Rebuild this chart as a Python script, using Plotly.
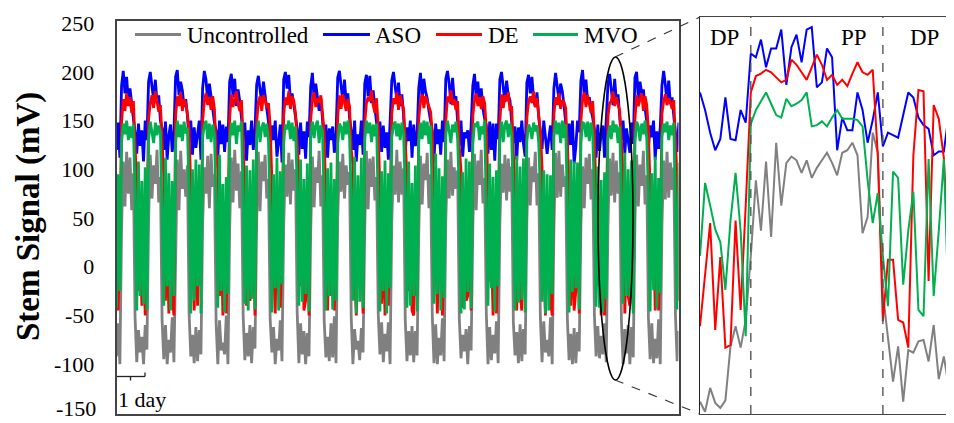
import numpy as np
import plotly.graph_objects as go

# page body has an 8 px default margin: the figure is laid out in screen pixels
OFF = 8
W, H = 954 - OFF, 423 - OFF

# ---------------- main chart data: 21 days, 16 samples per day (1.5 h) ----------------
samples_per_day = 16
uncontrolled_days = [
    [-92, -58, -100, 40, 108, 62, 118, 75, 112, 58, 96, -52, -98, -65, -88, -72],
    [-100, -60, -85, 48, 115, 70, 104, 85, 120, 66, 92, -55, -95, -60, -100, -75],
    [-88, -52, -98, 35, 110, 58, 119, 80, 100, 72, 104, -48, -92, -70, -99, -62],
    [-97, -65, -90, 44, 102, 75, 114, 60, 116, 82, 95, -58, -100, -55, -86, -78],
    [-90, -50, -100, 38, 112, 66, 120, 78, 106, 60, 98, -50, -96, -68, -92, -60],
    [-99, -62, -84, 46, 118, 57, 108, 88, 115, 70, 90, -54, -88, -62, -100, -74],
    [-86, -55, -97, 42, 105, 72, 117, 64, 110, 78, 100, -47, -99, -58, -90, -66],
    [-100, -68, -92, 36, 113, 61, 102, 86, 119, 62, 94, -56, -93, -72, -97, -58],
    [-93, -51, -99, 50, 108, 77, 116, 70, 104, 84, 97, -52, -100, -64, -85, -76],
    [-96, -63, -88, 39, 119, 59, 111, 82, 113, 68, 92, -49, -90, -57, -98, -69],
    [-87, -57, -100, 45, 104, 74, 120, 66, 108, 74, 101, -55, -97, -66, -91, -61],
    [-98, -66, -91, 37, 114, 64, 106, 89, 117, 60, 95, -50, -99, -59, -100, -73],
    [-91, -53, -97, 48, 110, 70, 118, 73, 102, 80, 99, -53, -94, -70, -87, -64],
    [-100, -61, -86, 41, 116, 58, 109, 84, 120, 65, 91, -48, -100, -62, -96, -70],
    [-89, -56, -99, 43, 106, 76, 115, 68, 111, 77, 103, -57, -91, -67, -99, -59],
    [-97, -64, -90, 47, 112, 63, 103, 87, 118, 63, 96, -51, -98, -56, -88, -75],
    [-92, -52, -100, 38, 117, 71, 119, 72, 105, 82, 93, -54, -96, -69, -100, -63],
    [-99, -67, -87, 44, 103, 60, 112, 85, 116, 69, 100, -49, -92, -61, -94, -71],
    [-90, -58, -98, 40, 111, 73, 117, 66, 109, 75, 97, -56, -100, -64, -89, -60],
    [-100, -62, -93, 46, 115, 62, 105, 83, 119, 64, 94, -52, -95, -58, -99, -74],
    [-94, -54, -100, 42, 109, 69, 118, 71, 107, 79, 102, -50, -97, -66, -91, -65],
]
aso_days = [
    [120, 148, 112, 186, 201, 178, 195, 170, 183, 165, 152, 138, 116, 147, 124, 140],
    [108, 150, 130, 190, 200, 185, 172, 192, 168, 176, 150, 142, 120, 149, 110, 135],
    [146, 118, 138, 195, 202, 176, 190, 181, 164, 172, 155, 128, 150, 115, 143, 122],
    [135, 150, 110, 183, 201, 192, 170, 188, 175, 160, 148, 140, 112, 150, 126, 146],
    [118, 144, 128, 190, 198, 174, 193, 165, 182, 170, 151, 136, 148, 109, 140, 125],
    [150, 120, 140, 187, 196, 180, 168, 190, 172, 162, 149, 119, 145, 130, 150, 113],
    [128, 146, 107, 192, 200, 183, 197, 170, 178, 166, 152, 142, 115, 148, 121, 139],
    [111, 149, 133, 185, 199, 172, 188, 176, 160, 174, 150, 128, 146, 112, 142, 130],
    [144, 117, 137, 194, 201, 186, 170, 192, 169, 178, 153, 140, 120, 150, 108, 136],
    [125, 150, 115, 188, 197, 175, 196, 168, 181, 163, 148, 133, 149, 118, 145, 122],
    [138, 110, 148, 191, 200, 182, 171, 189, 165, 177, 155, 117, 143, 129, 150, 112],
    [146, 124, 135, 184, 199, 170, 193, 180, 173, 160, 151, 139, 108, 147, 126, 141],
    [115, 150, 128, 193, 201, 188, 167, 194, 171, 175, 149, 124, 150, 113, 138, 132],
    [140, 118, 145, 186, 198, 173, 190, 166, 183, 162, 152, 145, 116, 149, 120, 147],
    [109, 147, 131, 192, 200, 181, 169, 191, 176, 171, 150, 127, 144, 110, 143, 128],
    [150, 126, 113, 189, 197, 178, 195, 172, 164, 179, 154, 138, 121, 150, 131, 116],
    [132, 145, 120, 183, 199, 186, 171, 188, 180, 166, 148, 118, 147, 125, 150, 106],
    [123, 150, 138, 191, 202, 175, 192, 169, 174, 161, 153, 141, 112, 146, 119, 137],
    [145, 112, 149, 187, 198, 183, 166, 193, 170, 177, 151, 130, 150, 116, 142, 127],
    [117, 148, 126, 194, 200, 172, 190, 178, 182, 163, 149, 122, 145, 133, 150, 110],
    [139, 121, 143, 186, 201, 187, 169, 191, 167, 174, 152, 136, 118, 148, 124, 145],
]
de_days = [
    [60, -45, 30, 148, 172, 160, 178, 165, 174, 158, 170, 128, 80, -25, 55, -40],
    [15, -50, 40, 152, 168, 176, 163, 180, 170, 159, 166, 135, 92, -35, 20, -48],
    [45, -30, -50, 155, 175, 165, 179, 160, 172, 168, 157, 140, 70, 10, -45, 35],
    [-40, 50, -20, 150, 170, 178, 166, 174, 161, 175, 162, 118, 100, -30, 40, -50],
    [25, -48, 60, 153, 177, 164, 172, 180, 167, 160, 171, 132, 65, -40, 15, -35],
    [-25, 35, -50, 149, 169, 175, 160, 176, 171, 163, 168, 145, 88, 0, -48, 50],
    [55, -42, 20, 156, 174, 166, 180, 162, 175, 170, 158, 125, 95, -20, 45, -45],
    [-35, 30, -50, 151, 171, 179, 164, 173, 168, 176, 160, 138, 60, -45, 25, -30],
    [40, -45, 10, 154, 176, 162, 177, 169, 160, 172, 165, 120, 105, -10, -50, 45],
    [-20, 55, -48, 148, 168, 174, 170, 181, 166, 158, 173, 142, 75, -38, 30, -50],
    [35, -40, 50, 157, 173, 167, 179, 161, 176, 169, 162, 130, 90, -25, 40, -45],
    [-50, 20, -30, 152, 170, 177, 163, 175, 170, 166, 159, 137, 68, 5, -48, 30],
    [45, -50, 15, 150, 175, 169, 181, 166, 172, 161, 170, 124, 98, -42, 50, -35],
    [-30, 40, -45, 155, 171, 178, 165, 174, 162, 175, 168, 141, 80, -15, 20, -50],
    [30, -48, 55, 149, 177, 163, 176, 170, 179, 160, 165, 127, 72, -45, 35, -28],
    [-45, 25, -20, 153, 169, 175, 168, 180, 164, 173, 158, 139, 102, 0, -50, 40],
    [50, -35, -50, 156, 174, 166, 178, 162, 171, 169, 163, 122, 85, -40, 25, -45],
    [-25, 45, -48, 150, 172, 179, 164, 176, 168, 158, 170, 136, 66, -20, 45, -50],
    [20, -50, 35, 154, 168, 170, 180, 165, 174, 167, 160, 129, 94, -48, 10, -30],
    [-40, 30, -45, 151, 176, 165, 171, 178, 160, 175, 166, 140, 78, -5, 50, -45],
    [40, -45, 20, 157, 170, 177, 166, 173, 169, 162, 171, 133, 88, -35, 30, -50],
]
mvo_days = [
    [-42, 95, -25, 128, 147, 136, 150, 130, 144, 132, 146, 70, -45, 108, -30, 88],
    [-38, 102, -45, 131, 149, 140, 127, 148, 135, 145, 138, 55, -40, 112, -20, 96],
    [-45, 88, -30, 126, 150, 133, 146, 129, 149, 137, 143, 75, -48, 100, -35, 110],
    [-20, 105, -48, 133, 145, 150, 131, 147, 128, 146, 136, 62, -42, 115, -25, 85],
    [-47, 92, -28, 129, 148, 135, 150, 126, 145, 139, 149, 68, -38, 104, -45, 99],
    [-33, 110, -44, 132, 150, 128, 143, 148, 133, 147, 130, 58, -47, 95, -22, 112],
    [-45, 98, -18, 127, 146, 141, 150, 131, 148, 129, 144, 80, -40, 110, -36, 90],
    [-28, 106, -46, 134, 149, 132, 145, 150, 127, 145, 139, 64, -45, 101, -30, 107],
    [-44, 90, -35, 125, 147, 143, 130, 149, 136, 150, 133, 72, -35, 113, -48, 94],
    [-36, 112, -42, 130, 150, 137, 148, 128, 146, 134, 147, 60, -46, 98, -25, 109],
    [-48, 96, -22, 133, 145, 149, 134, 147, 130, 148, 137, 77, -42, 108, -40, 86],
    [-30, 104, -46, 128, 148, 131, 150, 135, 149, 126, 145, 66, -38, 116, -28, 101],
    [-45, 93, -32, 135, 150, 140, 127, 146, 138, 149, 131, 74, -48, 97, -44, 111],
    [-26, 108, -43, 126, 147, 145, 149, 130, 144, 136, 150, 57, -40, 106, -22, 92],
    [-46, 99, -20, 131, 149, 128, 146, 150, 133, 147, 135, 69, -45, 114, -37, 103],
    [-34, 111, -47, 129, 146, 142, 131, 148, 139, 145, 128, 78, -36, 99, -48, 95],
    [-45, 94, -28, 134, 150, 136, 148, 127, 150, 132, 146, 61, -47, 110, -26, 108],
    [-22, 107, -44, 127, 148, 147, 133, 149, 129, 148, 137, 73, -41, 103, -42, 89],
    [-47, 97, -33, 132, 145, 131, 150, 138, 146, 127, 144, 65, -38, 117, -30, 100],
    [-31, 109, -48, 128, 149, 144, 129, 147, 136, 150, 132, 76, -46, 96, -24, 113],
    [-43, 91, -27, 133, 147, 138, 149, 130, 145, 135, 148, 59, -44, 107, -39, 97],
]

# ---------------- zoomed inset data (one DP / PP / DP cycle, 0.5 h samples) ----------------
inset_step_h = 0.5
inset_uncontrolled = [-96, -104, -85, -97, -101, -95, -52, -36, -53, -31,
                      20, 80, 40, 95, 35, 110, 60, 94, 99, 96, 86, 96, 82, 90, 96, 102, 94, 84,
                      102, 104, 110, 100, 38, 51, 118, 102, -10,
                      -43, -80, -52, -96, -55, -57, -48, -47, -64, -35, -78, -60, -85, -95]
inset_aso = [150, 136, 118, 104, 113, 146, 113, 112, 136, 126,
             181, 178, 192, 170, 185, 185, 200, 156, 186, 196, 174, 200, 202, 154, 158, 185, 178,
             104, 130, 120, 120, 150, 136, 110, 128, 150, 107,
             118, 116, 114, 132, 150, 146, 130, 124, 121, 100, 103, 103, 134, 136]
inset_de = [-36, 5, 46, -39, 19, -53, -51, 48, -23, 60,
            150, 163, 165, 168, 166, 162, 158, 160, 176, 172, 166, 160, 170, 180, 172, 160, 164,
            156, 160, 155, 165, 174, 166, 164, 168, 100, -32,
            17, 17, -31, -33, -53, 100, 152, 151, 0, 140, 129, 98, 17, 60]
inset_mvo = [20, 78, 60, 41, 31, -7, 48, 86, 40, -44,
             125, 136, 143, 150, 141, 132, 130, 145, 139, 141, 144, 150, 123, 124, 127, 123, 130,
             136, 129, 129, 129, 128, 123, 80, 46, 70, 20,
             -20, 87, 82, -3, 40, 71, -23, -28, 97, -12, 40, 97, -28, 3]
phase_bounds_h = [5.0, 18.0]
phase_labels = ["DP", "PP", "DP"]
phase_label_h = [2.4, 15.2, 22.1]

y_ticks = [-150, -100, -50, 0, 50, 100, 150, 200, 250]
y_tick_labels = ["-150", "-100", "-50", "0", "50", "100", "150", "200", "250"]

series_names = ["Uncontrolled", "ASO", "DE", "MVO"]
series_colors = ["#808080", "#0000FF", "#FF0000", "#00B050"]
main_series = [uncontrolled_days, aso_days, de_days, mvo_days]
inset_series = [inset_uncontrolled, inset_aso, inset_de, inset_mvo]

FONT = "Liberation Serif"


def px(x):
    """screen x pixel -> paper fraction"""
    return (x - OFF) / W


def py(y):
    """screen y pixel -> paper fraction"""
    return 1 - (y - OFF) / H


fig = go.Figure()

for name, color, days in zip(series_names, series_colors, main_series):
    vals = [v for day in days for v in day]
    t = np.arange(len(vals)) / samples_per_day
    fig.add_trace(go.Scatter(x=t, y=vals, mode="lines", name=name,
                             line=dict(color=color, width=2.8),
                             xaxis="x", yaxis="y", showlegend=False))

for name, color, vals in zip(series_names, series_colors, inset_series):
    t = np.arange(len(vals)) * inset_step_h
    fig.add_trace(go.Scatter(x=t, y=vals, mode="lines", name=name,
                             line=dict(color=color, width=2),
                             xaxis="x2", yaxis="y2", showlegend=False))

shapes = []
annotations = []

# custom legend (line samples + labels)
legend_layout = [(135, 181, 185), (323, 370, 373), (436, 482, 486), (533, 578, 582)]
for (x0, x1, xt), name, color in zip(legend_layout, series_names, series_colors):
    shapes.append(dict(type="line", xref="paper", yref="paper", x0=px(x0), x1=px(x1),
                       y0=py(34.5), y1=py(34.5), line=dict(color=color, width=3)))
    annotations.append(dict(text=name, xref="paper", yref="paper", x=px(xt), y=py(35),
                            xanchor="left", yanchor="middle", showarrow=False,
                            font=dict(family=FONT, size=23, color="black")))

# lowest y tick label drawn as text kept inside the page (it sits on the bottom edge)
annotations.append(dict(text=y_tick_labels[0], xref="paper", yref="paper", x=px(98),
                        y=py(422.5), xanchor="right", yanchor="bottom", showarrow=False,
                        font=dict(family=FONT, size=22, color="black")))

# 1 day scale bar
bar = dict(color="#222", width=1.3)
shapes.append(dict(type="line", xref="paper", yref="paper", x0=px(117), x1=px(145),
                   y0=py(376.5), y1=py(376.5), line=bar))
shapes.append(dict(type="line", xref="paper", yref="paper", x0=px(145), x1=px(145),
                   y0=py(376.5), y1=py(372.5), line=bar))
shapes.append(dict(type="line", xref="paper", yref="paper", x0=px(130.5), x1=px(130.5),
                   y0=py(376.5), y1=py(380.5), line=bar))
annotations.append(dict(text="1 day", xref="paper", yref="paper", x=px(116), y=py(399),
                        xanchor="left", yanchor="middle", showarrow=False,
                        font=dict(family=FONT, size=22, color="black")))

# ellipse + dashed connectors
shapes.append(dict(type="circle", xref="paper", yref="paper", x0=px(598), x1=px(633),
                   y0=py(380), y1=py(57), line=dict(color="black", width=1.6)))
shapes.append(dict(type="line", xref="paper", yref="paper", x0=px(615), y0=py(57),
                   x1=px(700), y1=py(17), line=dict(color="#333", width=1.1, dash="dash")))
shapes.append(dict(type="line", xref="paper", yref="paper", x0=px(615), y0=py(380),
                   x1=px(700), y1=py(414), line=dict(color="#333", width=1.1, dash="dash")))

# inset phase boundaries & labels
for b in phase_bounds_h:
    shapes.append(dict(type="line", xref="x2", yref="paper", x0=b, x1=b,
                       y0=py(414), y1=py(17), line=dict(color="#555", width=1.4, dash="dash")))
for lab, h in zip(phase_labels, phase_label_h):
    annotations.append(dict(text=lab, xref="x2", yref="paper", x=h, y=py(37),
                            xanchor="center", yanchor="middle", showarrow=False,
                            font=dict(family=FONT, size=23, color="black")))

# y-axis title
annotations.append(dict(text="<b>Stem Signal (mV)</b>", xref="paper", yref="paper",
                        x=px(28), y=py(217), textangle=-90, xanchor="center", yanchor="middle",
                        showarrow=False, font=dict(family=FONT, size=33, color="black")))

fig.update_layout(
    width=W, height=H, margin=dict(l=0, r=0, t=0, b=0, autoexpand=False),
    paper_bgcolor="white", plot_bgcolor="white", showlegend=False,
    shapes=shapes, annotations=annotations,
    xaxis=dict(domain=[px(116.5), px(678.5)], range=[0, 20.8], showgrid=False, zeroline=False,
               showticklabels=False, ticks="", showline=True, mirror=True, automargin=False,
               linecolor="#444", linewidth=1.5, anchor="y"),
    yaxis=dict(domain=[py(414.3), py(20.7)], range=[-151.5, 252.6], tickvals=y_ticks[1:],
               ticktext=y_tick_labels[1:], showgrid=False, zeroline=False,
               showline=True, mirror=True, linecolor="#444", linewidth=1.5, ticks="",
               ticklabelstandoff=16, anchor="x", automargin=False,
               tickfont=dict(family=FONT, size=22, color="black")),
    xaxis2=dict(domain=[px(700), 1.0], range=[0, 25], showgrid=False, zeroline=False,
                showticklabels=False, ticks="", showline=True, mirror=True, automargin=False,
                linecolor="#444", linewidth=1.3, anchor="y2"),
    yaxis2=dict(domain=[py(414), py(17)], range=[-105.8, 210], showgrid=False, zeroline=False,
                showticklabels=False, ticks="", showline=True, mirror=False, automargin=False,
                linecolor="#222", linewidth=1.3, anchor="x2"),
)

fig.write_html("out.html")
